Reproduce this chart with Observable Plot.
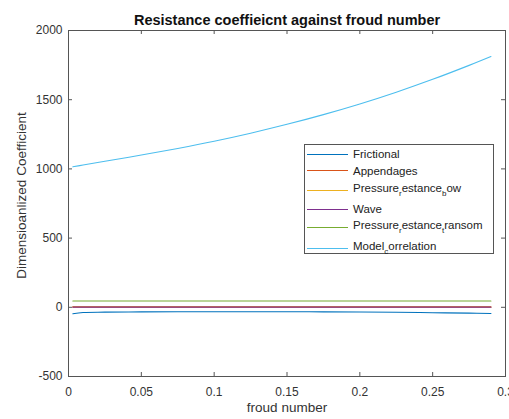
<!DOCTYPE html>
<html>
<head>
<meta charset="utf-8">
<script src="https://cdn.jsdelivr.net/npm/d3@7"></script>
<script src="https://cdn.jsdelivr.net/npm/@observablehq/plot@0.6"></script>
<style>
  html, body { margin: 0; padding: 0; background: white; }
  #wrap { position: relative; width: 509px; height: 419px; overflow: hidden; font-family: "Liberation Sans", Arial, Helvetica, sans-serif; }
  #legend { position: absolute; left: 304px; top: 144px; width: 190px; height: 110px; background: white; border: 1px solid #555; box-sizing: border-box; }
  .row { position: absolute; left: 0; height: 20px; display: flex; align-items: center; font-size: 11.5px; color: #222; white-space: nowrap; }
  .sw { width: 41px; height: 1px; margin-left: 2px; margin-right: 5px; }
  .row sub { font-size: 8px; vertical-align: -4px; line-height: 1; }
</style>
</head>
<body>
<div id="wrap"></div>
<script>
// ---- data ----
const froud = [0.003, 0.01, 0.025, 0.05, 0.075, 0.1, 0.125, 0.15, 0.175, 0.2, 0.225, 0.25, 0.275, 0.29];
const frictional = [-47, -38, -35, -33, -32, -32, -32, -32, -33, -34, -36, -39, -42, -45];
const appendages = [3, 3, 3, 3, 3, 3, 3, 3, 3, 3, 3, 3, 3, 3];
const pressureBow = [2, 2, 2, 2, 2, 2, 2, 2, 2, 2, 2, 2, 2, 2];
const wave = [1, 1, 1, 1, 1, 1, 1, 1, 1, 1, 1, 1, 1, 1];
const pressureTransom = [46, 46, 46, 46, 46, 46, 46, 46, 46, 46, 46, 46, 46, 46];
const modelCorrelation = [1015, 1028, 1055, 1100, 1148, 1200, 1258, 1322, 1392, 1469, 1554, 1647, 1748, 1812];

const seriesNames = ["Frictional", "Appendages", "Pressure_restance_bow", "Wave", "Pressure_restance_transom", "Model_correlation"];
const seriesValues = [frictional, appendages, pressureBow, wave, pressureTransom, modelCorrelation];
const seriesColors = ["#0072BD", "#D95319", "#EDB120", "#7E2F8E", "#77AC30", "#4DBEEE"];
const legendHTML = ["Frictional", "Appendages", "Pressure<sub>r</sub>estance<sub>b</sub>ow", "Wave", "Pressure<sub>r</sub>estance<sub>t</sub>ransom", "Model<sub>c</sub>orrelation"];

const xTicks = [0, 0.05, 0.1, 0.15, 0.2, 0.25, 0.3];
const xTickLabels = ["0", "0.05", "0.1", "0.15", "0.2", "0.25", "0.3"];
const yTicks = [-500, 0, 500, 1000, 1500, 2000];
const yTickLabels = ["-500", "0", "500", "1000", "1500", "2000"];

const titleText = "Resistance coeffieicnt against froud number";
const xLabel = "froud number";
const yLabel = "Dimensioanlized Coefficient";

// long-format table
const data = [];
seriesNames.forEach((s, i) => froud.forEach((f, j) => data.push({series: s, froud: f, value: seriesValues[i][j]})));

const W = 509, H = 419, mT = 30, mB = 43, mL = 68, mR = 4;
const fw = W - mL - mR, fh = H - mT - mB, tl = 4;
const axisColor = "#555";

const chart = Plot.plot({
  width: W, height: H,
  marginTop: mT, marginBottom: mB, marginLeft: mL, marginRight: mR,
  style: {fontFamily: "'Liberation Sans', Arial, Helvetica, sans-serif", fontSize: "12px", color: "#333", background: "white"},
  x: {domain: [0, 0.3]},
  y: {domain: [-500, 2000]},
  color: {domain: seriesNames, range: seriesColors},
  marks: [
    Plot.lineY(data, {x: "froud", y: "value", stroke: "series", z: "series", strokeWidth: 1.1, curve: "catmull-rom"}),
    Plot.axisX(xTicks, {tickSize: 0, tickPadding: 11, tickFormat: (d, i) => xTickLabels[i], label: null, fill: "#333"}),
    Plot.axisY(yTicks, {tickSize: 0, tickPadding: 6, tickFormat: (d, i) => yTickLabels[i], label: null, fill: "#333"}),
    Plot.tickX(xTicks, {x: d => d, insetTop: fh - tl, stroke: axisColor}),
    Plot.tickX(xTicks, {x: d => d, insetBottom: fh - tl, stroke: axisColor}),
    Plot.tickY(yTicks, {y: d => d, insetRight: fw - tl, stroke: axisColor}),
    Plot.tickY(yTicks, {y: d => d, insetLeft: fw - tl, stroke: axisColor}),
    Plot.frame({stroke: axisColor}),
    Plot.text([titleText], {frameAnchor: "top", dy: -6, lineAnchor: "bottom", fontSize: 14.5, fontWeight: "bold", fill: "#111"}),
    Plot.text([xLabel], {frameAnchor: "bottom", dy: 35, fontSize: 13.5, fill: "#333"}),
    Plot.text([yLabel], {frameAnchor: "left", textAnchor: "middle", dx: -47, dy: -8, rotate: -90, fontSize: 13.5, fill: "#333"})
  ]
});

const wrap = document.getElementById("wrap");
wrap.appendChild(chart);

const legend = document.createElement("div");
legend.id = "legend";
const rowCenters = [10, 26.7, 46, 65, 83.3, 104.3];
legendHTML.forEach((h, i) => {
  const row = document.createElement("div");
  row.className = "row";
  row.style.top = (rowCenters[i] - 1 - 10) + "px";
  row.innerHTML = `<div class="sw" style="background:${seriesColors[i]}"></div><span>${h}</span>`;
  legend.appendChild(row);
});
wrap.appendChild(legend);
</script>
</body>
</html>
